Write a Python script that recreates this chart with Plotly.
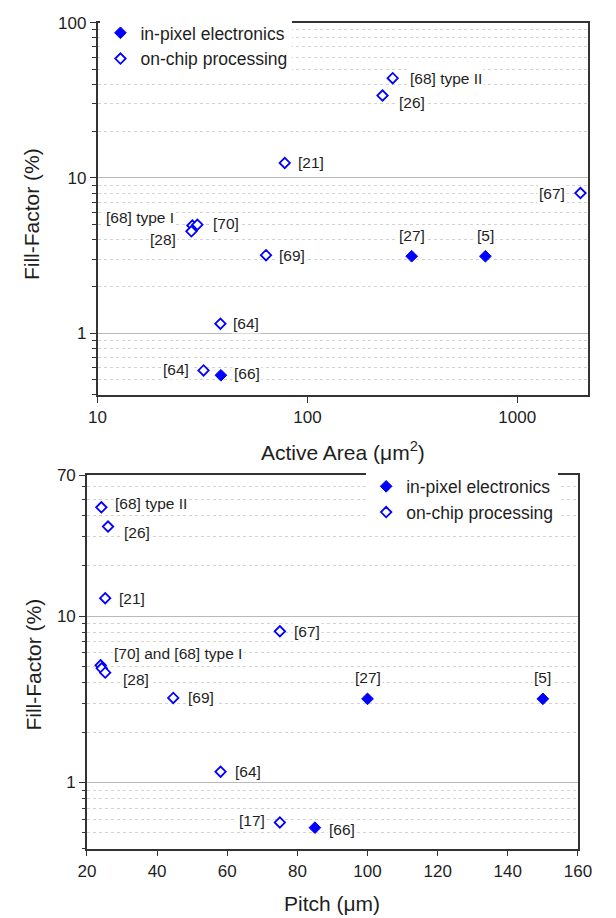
import numpy as np
import plotly.graph_objects as go

# ---------------- data ----------------
# Top panel: Fill-Factor (%) vs Active Area (um^2)
area_chip_ref = ["[68] type II", "[26]", "[21]", "[67]", "[68] type I", "[70]", "[28]", "[69]", "[64]", "[64]"]
area_chip_x = [255, 228, 78, 2000, 28.3, 29.9, 28.0, 63.5, 38.5, 32.0]
area_chip_y = [44, 34, 12.5, 8.0, 4.94, 5.0, 4.53, 3.18, 1.15, 0.575]
area_pix_ref = ["[27]", "[5]", "[66]"]
area_pix_x = [314, 705, 38.7]
area_pix_y = [3.13, 3.13, 0.535]

# Bottom panel: Fill-Factor (%) vs Pitch (um)
pitch_chip_ref = ["[68] type II", "[26]", "[21]", "[67]", "[70] and [68] type I", "", "[28]", "[69]", "[64]", "[17]"]
pitch_chip_x = [24.1, 26.0, 25.2, 75, 23.9, 24.2, 25.2, 44.6, 58.1, 75]
pitch_chip_y = [45, 34.5, 12.8, 8.1, 5.06, 4.85, 4.57, 3.22, 1.16, 0.575]
pitch_pix_ref = ["[27]", "[5]", "[66]"]
pitch_pix_x = [100, 150, 85]
pitch_pix_y = [3.18, 3.18, 0.535]

# ---------------- label placement (style) ----------------
# (side, xshift, yshift): side r=right of point, l=left, a=above
area_chip_pos = [("r", 15, 0), ("r", 14, -7), ("r", 11, 0), ("l", -13, 0), ("l", -16, 8),
                 ("r", 14, 1), ("l", -13, -8), ("r", 11, 0), ("r", 11, 0), ("l", -13, 1)]
area_pix_pos = [("a", 0, 21), ("a", 0, 21), ("r", 11, 2)]
pitch_chip_pos = [("r", 12, 4), ("r", 14, -6), ("r", 12, 0), ("r", 12, 0), ("r", 11, 12),
                  ("r", 0, 0), ("r", 16, -7), ("r", 13, 0), ("r", 12, 0), ("l", -13, 2)]
pitch_pix_pos = [("a", 0, 21), ("a", 0, 21), ("r", 12, -2)]

BLUE = "#0000ff"
FONT = "Liberation Sans, Arial, sans-serif"
TXT = "#1e1e1e"
W, H = 616, 918

fig = go.Figure()

open_marker = dict(symbol="diamond", size=8, color="white", line=dict(color=BLUE, width=1.8))
fill_marker = dict(symbol="diamond", size=9, color=BLUE, line=dict(color=BLUE, width=1))

fig.add_trace(go.Scatter(x=area_pix_x, y=area_pix_y, mode="markers", name="in-pixel electronics",
                         marker=fill_marker, xaxis="x", yaxis="y", legend="legend"))
fig.add_trace(go.Scatter(x=area_chip_x, y=area_chip_y, mode="markers", name="on-chip processing",
                         marker=open_marker, xaxis="x", yaxis="y", legend="legend"))
fig.add_trace(go.Scatter(x=pitch_pix_x, y=pitch_pix_y, mode="markers", name="in-pixel electronics",
                         marker=fill_marker, xaxis="x2", yaxis="y2", legend="legend2"))
fig.add_trace(go.Scatter(x=pitch_chip_x, y=pitch_chip_y, mode="markers", name="on-chip processing",
                         marker=open_marker, xaxis="x2", yaxis="y2", legend="legend2"))

annotations = []


def add_labels(refs, xs, ys, pos, xref, yref, xlog):
    for t, xv, yv, (side, dx, dy) in zip(refs, xs, ys, pos):
        if not t:
            continue
        xa = {"r": "left", "l": "right", "a": "center"}[side]
        annotations.append(dict(
            x=np.log10(xv) if xlog else xv, y=np.log10(yv), xref=xref, yref=yref,
            text=t, showarrow=False, xanchor=xa, yanchor="middle",
            xshift=dx, yshift=dy, bgcolor="white", borderpad=1,
            font=dict(family=FONT, size=15.5, color=TXT)))


add_labels(area_chip_ref, area_chip_x, area_chip_y, area_chip_pos, "x", "y", True)
add_labels(area_pix_ref, area_pix_x, area_pix_y, area_pix_pos, "x", "y", True)
add_labels(pitch_chip_ref, pitch_chip_x, pitch_chip_y, pitch_chip_pos, "x2", "y2", False)
add_labels(pitch_pix_ref, pitch_pix_x, pitch_pix_y, pitch_pix_pos, "x2", "y2", False)

# axis titles
TF = dict(family=FONT, size=21, color=TXT)
annotations += [
    dict(text="Active Area (\u03bcm<sup>2</sup>)", x=346.5 / W, y=1 - 446 / H, xref="paper", yref="paper",
         showarrow=False, xanchor="center", yanchor="middle", font=TF),
    dict(text="Pitch (\u03bcm)", x=336 / W, y=1 - 903 / H, xref="paper", yref="paper",
         showarrow=False, xanchor="center", yanchor="middle", font=TF),
    dict(text="Fill-Factor (%)", x=24 / W, y=1 - 207 / H, xref="paper", yref="paper", textangle=-90,
         showarrow=False, xanchor="center", yanchor="middle", font=TF),
    dict(text="Fill-Factor (%)", x=25 / W, y=1 - 662 / H, xref="paper", yref="paper", textangle=-90,
         showarrow=False, xanchor="center", yanchor="middle", font=TF),
]

LINE = "#333333"
base = dict(showline=True, linecolor=LINE, linewidth=1.5, mirror=True, ticks="outside",
            tickcolor=LINE, tickwidth=1.2, ticklen=6, zeroline=False,
            tickfont=dict(family=FONT, size=17, color=TXT))


def minor_vals(lo_exp, hi_exp):
    return [k * 10.0 ** e for e in range(lo_exp, hi_exp) for k in range(2, 10)]


minor_top = [v for v in minor_vals(-1, 2) if 0.4 <= v <= 90]
minor_bot = [v for v in minor_vals(-1, 2) if 0.4 <= v <= 60]

ymin = dict(tickmode="array", ticks="outside", ticklen=3.5, tickcolor=LINE, tickwidth=1,
            showgrid=True, gridcolor="#d2d2d2", griddash="dot", gridwidth=1)

fig.update_layout(
    width=W, height=H, margin=dict(l=0, r=0, t=0, b=0),
    paper_bgcolor="white", plot_bgcolor="white",
    font=dict(family=FONT, color=TXT),
    annotations=annotations,
    xaxis=dict(base, type="log", range=[1, 3.335], tickvals=[10, 100, 1000], ticktext=["10", "100", "1000"],
               showgrid=False, domain=[92 / W, 601 / W], anchor="y"),
    yaxis=dict(base, type="log", range=[-0.4, 2], tickvals=[1, 10, 100], ticktext=["1", "10", "100"],
               showgrid=True, gridcolor="#b9b9b9", gridwidth=1,
               minor=dict(ymin, tickvals=minor_top),
               domain=[1 - 390 / H, 1 - 14 / H], anchor="x"),
    xaxis2=dict(base, type="linear", range=[20, 160], tick0=20, dtick=20, showgrid=False,
                domain=[81 / W, 591 / W], anchor="y2"),
    yaxis2=dict(base, type="log", range=[np.log10(0.4), np.log10(70)], tickvals=[1, 10, 70],
                ticktext=["1", "10", "70"], showgrid=True, gridcolor="#b9b9b9", gridwidth=1,
                minor=dict(ymin, tickvals=minor_bot),
                domain=[1 - 848 / H, 1 - 471 / H], anchor="x2"),
    legend=dict(x=95 / W, y=1 - 6 / H, xanchor="left", yanchor="top", bgcolor="white",
                borderwidth=0, font=dict(family=FONT, size=17.5, color=TXT), tracegroupgap=0),
    legend2=dict(x=371 / W, y=1 - 464 / H, xanchor="left", yanchor="top", bgcolor="white",
                 borderwidth=0, font=dict(family=FONT, size=17.5, color=TXT), tracegroupgap=0),
    showlegend=True,
)

fig.write_html("out.html")
